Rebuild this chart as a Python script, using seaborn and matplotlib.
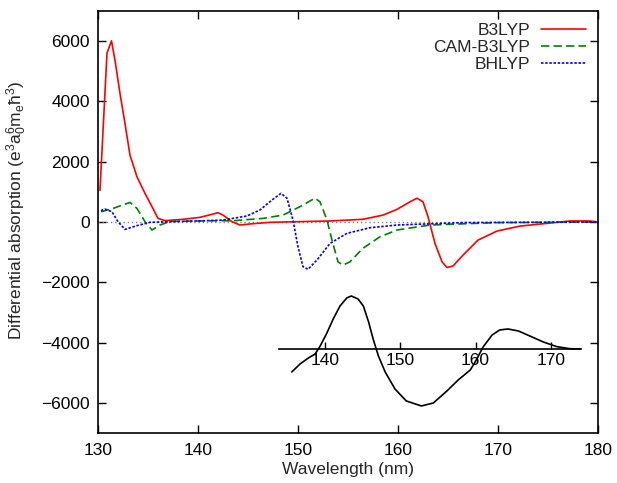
import numpy as np
import pandas as pd
import matplotlib
matplotlib.use("Agg")
import matplotlib.pyplot as plt
import seaborn as sns

# Calculated spectra
b3lyp_wl = [130.2, 130.9, 131.35, 131.7, 132.2, 132.7, 133.2, 133.9, 134.7, 135.4, 136.0, 136.7,
            138.5, 140.2, 141.4, 142.0, 142.5, 143.4, 144.2, 145.2, 147.2, 149.9, 153.2, 156.5,
            158.5, 159.9, 161.2, 161.9, 162.5, 163.0, 163.7, 164.4, 164.9, 165.5, 166.5, 168.0,
            169.9, 172.2, 174.9, 177.2, 179.2, 180.0]
b3lyp_val = [1050, 5600, 6010, 5370, 4270, 3270, 2220, 1500, 950, 510, 120, 45,
             90, 155, 255, 310, 230, 10, -100, -65, -10, 10, 35, 90,
             230, 420, 670, 790, 670, 180, -710, -1320, -1510, -1460, -1100, -600,
             -300, -135, -45, 35, 35, 0]

cam_wl = [130.3, 131.5, 133.2, 133.9, 134.7, 135.4, 136.2, 137.2, 142.5, 143.2, 146.5, 148.5,
          150.2, 151.7, 152.2, 152.9, 153.4, 154.0, 154.5, 155.2, 156.5, 158.2, 159.9, 163.2,
          169.9, 180.0]
cam_val = [340, 450, 650, 450, 10, -265, -100, 20, 45, 35, 120, 230,
           510, 790, 670, 65, -600, -1320, -1430, -1320, -870, -490, -265, -100,
           -20, 0]

bh_wl = [130.3, 130.7, 131.4, 132.0, 132.7, 133.9, 135.2, 137.5, 142.5, 144.9, 146.2, 147.4,
         148.3, 148.9, 149.5, 150.0, 150.5, 151.0, 151.9, 153.2, 154.9, 157.2, 159.9, 166.5,
         180.0]
bh_val = [375, 430, 340, 10, -245, -120, -10, 10, 65, 200, 400, 730,
          950, 790, 65, -820, -1480, -1570, -1260, -710, -375, -190, -100, -20,
          0]

# Experimental spectrum shown as an inset (arbitrary units)
exp_wl = [135.6, 136.7, 137.8, 138.7, 139.3, 140.2, 141.1, 142.0, 142.9, 143.5, 144.4, 145.1,
          145.8, 146.4, 147.1, 148.0, 149.3, 150.8, 152.8, 154.4, 156.2, 157.7, 159.3, 160.1,
          161.0, 162.2, 163.2, 164.3, 165.7, 167.2, 169.0, 170.8, 172.5, 173.9]
exp_val = [-23, -15, -9, -5, 2, 15, 30, 43, 51, 53, 50, 43,
           27, 10, -7, -23, -40, -52, -57, -54, -42, -31, -21, -11,
           2, 14, 19, 20, 18, 13, 7, 2.3, 0.3, 0]
exp_ticks = [140, 150, 160, 170]

sns.set_style("ticks")
plt.rcParams['font.family'] = ['Liberation Sans', 'DejaVu Sans']
plt.rcParams['mathtext.default'] = 'regular'
fs = 12.5
plt.rcParams['font.size'] = fs

fig = plt.figure(figsize=(6.17, 4.83), dpi=100)
ax = fig.add_axes([0.1588, 0.1035, 0.8104, 0.8737])

ax.axhline(0, color='gray', linestyle=(0, (1, 2)), linewidth=1)

sns.lineplot(x=b3lyp_wl, y=b3lyp_val, ax=ax, color='red', linewidth=1.2, label='B3LYP', sort=False)
sns.lineplot(x=cam_wl, y=cam_val, ax=ax, color='green', linewidth=1.2, label='CAM-B3LYP', sort=False)
sns.lineplot(x=bh_wl, y=bh_val, ax=ax, color='blue', linewidth=1.2, label='BHLYP', sort=False)
ax.lines[2].set_dashes((5, 2.5))
ax.lines[3].set_dashes((1.5, 1))

ax.set_xlim(130, 180)
ax.set_ylim(-7000, 7000)
ax.set_xticks([130, 140, 150, 160, 170, 180])
ax.set_yticks(np.arange(-6000, 6001, 2000))
ax.tick_params(direction='in', length=6, width=1, top=True, right=True, labelsize=fs, colors='black')
ax.tick_params(axis='x', pad=7)
ax.tick_params(axis='y', pad=6)
for s in ax.spines.values():
    s.set_visible(True)
    s.set_linewidth(1.2)
    s.set_color('black')
ax.set_xlabel('Wavelength (nm)', fontsize=fs, labelpad=3)
ax.set_ylabel(r'Differential absorption (e$^3$a$_0^6$m$_e$ħ$^3$)', fontsize=fs)
ax.yaxis.set_label_coords(-0.138, 0.528)

leg = ax.legend(loc='upper right', markerfirst=False, frameon=False, handlelength=2.6,
                fontsize=fs, labelspacing=0.1, borderaxespad=0.3, handletextpad=0.6)
leg.get_lines()[1].set_dashes((5, 2.5))
leg.get_lines()[2].set_dashes((1.5, 1))

# inset experimental curve with its own baseline axis
ins = ax.inset_axes([148.1, -4212 - 1990, 30.2, 3980], transform=ax.transData)
ins.patch.set_alpha(0)
sns.lineplot(x=exp_wl, y=exp_val, ax=ins, color='black', linewidth=1.2, sort=False)
ins.set_xlim(133.9, 174.0)
ins.set_ylim(-60, 60)
for side in ['top', 'left', 'right']:
    ins.spines[side].set_visible(False)
ins.spines['bottom'].set_position(('data', 0))
ins.spines['bottom'].set_linewidth(1.2)
ins.spines['bottom'].set_color('black')
ins.set_xticks(exp_ticks)
ins.set_yticks([])
ins.tick_params(axis='x', direction='in', length=5, width=1, pad=3, labelsize=fs, colors='black')
ins.set_xlabel('')
ins.set_ylabel('')

fig.savefig('out.png', dpi=100)
